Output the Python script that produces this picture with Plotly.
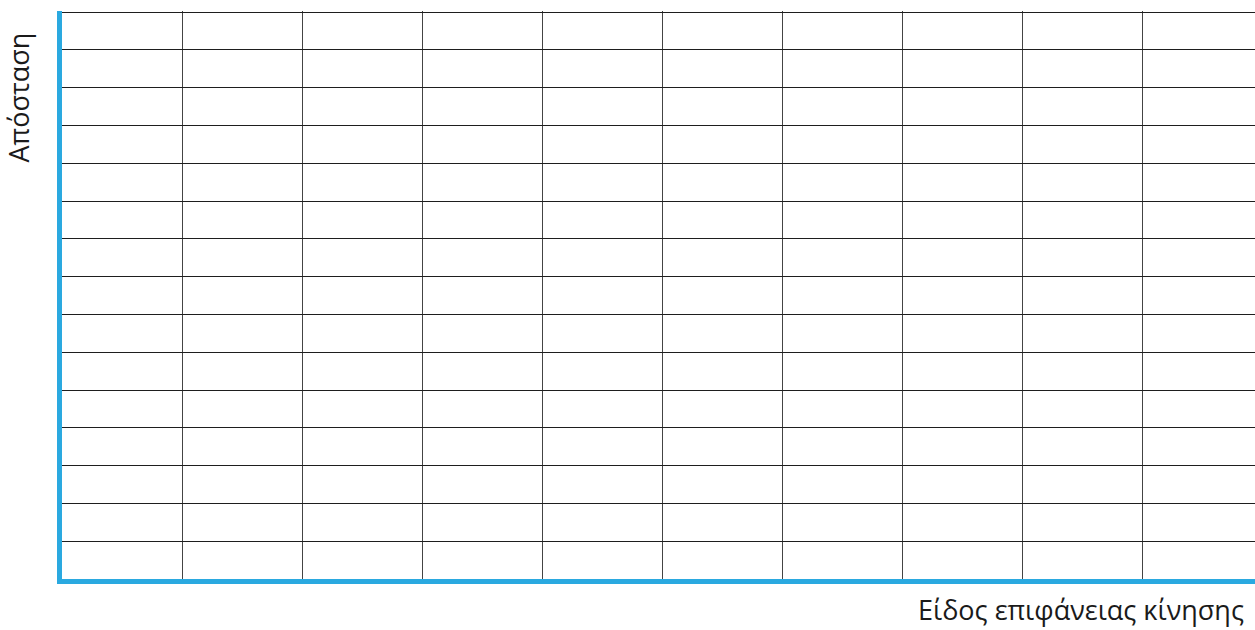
import plotly.graph_objects as go

# Blank worksheet grid: surface types along x, distance along y
x_title = "Είδος επιφάνειας κίνησης"
y_title = "Απόσταση"
x_cells = [0, 1, 2, 3, 4, 5, 6, 7, 8, 9, 10]
y_cells = [0, 1, 2, 3, 4, 5, 6, 7, 8, 9, 10, 11, 12, 13, 14, 15]

W, H = 1255, 630
left, top, bottom = 62, 11, 51
cell_w = 120  # px per column

fig = go.Figure()
fig.add_trace(go.Scatter(x=[], y=[], mode="markers", showlegend=False))

x_max = (W - left) / cell_w
# a hair of headroom so the top grid line is kept inside the plot area
y_top = y_cells[-1] + 0.03

fig.update_layout(
    width=W, height=H,
    margin=dict(l=left, r=0, t=top, b=bottom, pad=0),
    paper_bgcolor="white", plot_bgcolor="white",
    font=dict(family="Open Sans, Noto Sans, sans-serif", color="#1a1a1a"),
    showlegend=False,
    xaxis=dict(
        range=[0, x_max], tickvals=x_cells, showticklabels=False, ticks="",
        showgrid=True, gridcolor="#444444", gridwidth=1.4,
        zeroline=False, showline=True, linecolor="#2aa9e0", linewidth=5,
        fixedrange=True,
    ),
    yaxis=dict(
        range=[y_cells[0], y_top], tickvals=y_cells, showticklabels=False, ticks="",
        showgrid=True, gridcolor="#1e1e1e", gridwidth=1.4,
        zeroline=False, showline=True, linecolor="#2aa9e0", linewidth=5,
        fixedrange=True,
    ),
    annotations=[
        dict(text=y_title, xref="paper", yref="paper", x=0, y=1,
             xanchor="right", yanchor="top", xshift=-24, yshift=-20,
             textangle=-90, showarrow=False, font=dict(size=27)),
        dict(text=x_title, xref="paper", yref="paper", x=1, y=0,
             xanchor="right", yanchor="top", xshift=-9, yshift=-10,
             showarrow=False, font=dict(size=27)),
    ],
)

fig.write_html("out.html", config={"displayModeBar": False})
